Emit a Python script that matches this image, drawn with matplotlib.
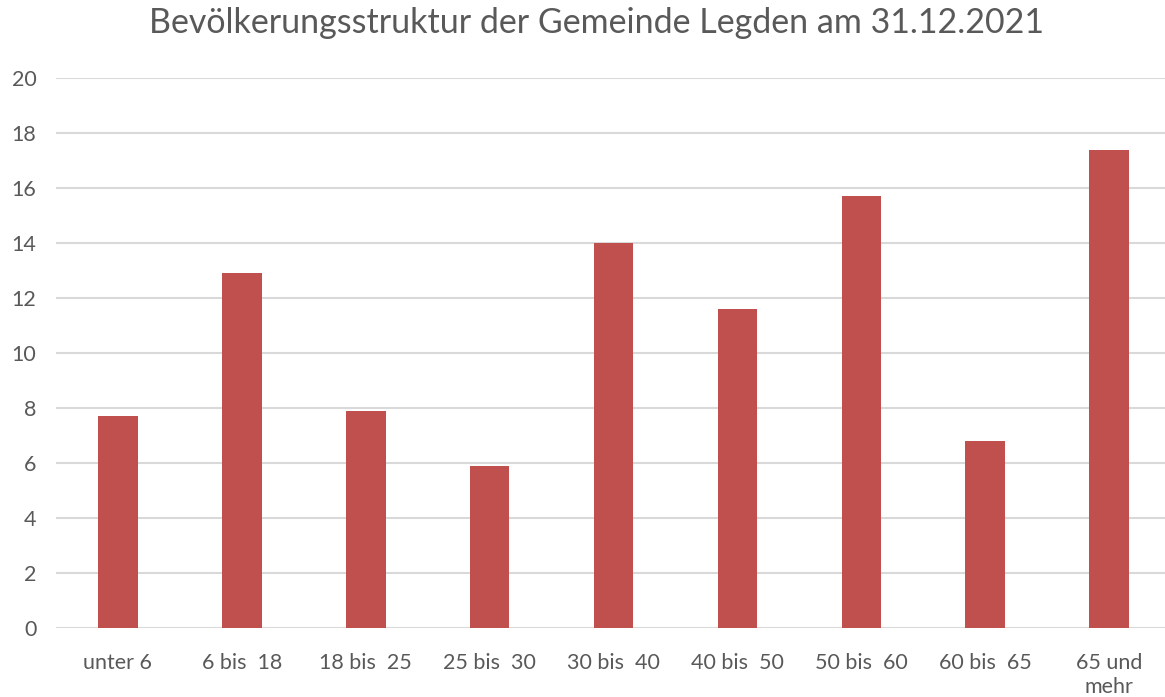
import matplotlib
matplotlib.use("Agg")
import matplotlib.pyplot as plt

# Altersgruppen und Anteile in Prozent
categories = ["unter 6", "6 bis  18", "18 bis  25", "25 bis  30", "30 bis  40",
              "40 bis  50", "50 bis  60", "60 bis  65", "65 und\nmehr"]
values = [7.7, 12.9, 7.9, 5.9, 14.0, 11.6, 15.7, 6.8, 17.4]
yticks = list(range(0, 21, 2))

plt.rcParams['font.family'] = ['Lato', 'DejaVu Sans']
text_color = "#595959"

fig = plt.figure(figsize=(11.65, 6.97), dpi=100)
ax = fig.add_axes([0.048, 0.099, 0.952, 0.789])

ax.bar(range(len(values)), values, width=0.32, color="#C0504D", zorder=3)

ax.set_xlim(-0.5, 8.45)
ax.set_ylim(0, 20)
ax.set_yticks(yticks)
ax.set_xticks(range(len(categories)))
ax.set_xticklabels(categories, fontsize=15.5, color=text_color, linespacing=1.25, va="top")
ax.tick_params(axis="y", labelsize=15.5, labelcolor=text_color, length=0, pad=14)
ax.tick_params(axis="x", length=0, pad=18)

ax.grid(axis="y", color="#D9D9D9", linewidth=1.5, zorder=0)
for s in ax.spines.values():
    s.set_visible(False)

fig.suptitle("Bevölkerungsstruktur der Gemeinde Legden am 31.12.2021",
             fontsize=24.5, color=text_color, x=0.512, y=0.99)

fig.savefig("out.png", dpi=100)
